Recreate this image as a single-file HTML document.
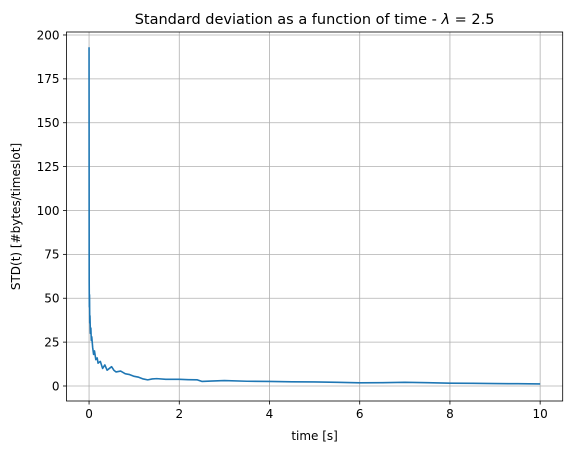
<!DOCTYPE html>
<html><head><meta charset="utf-8"><style>
body{margin:0;background:#fff}
svg text{font-family:"DejaVu Sans","Liberation Sans",sans-serif;fill:#000}
</style></head><body>
<svg id="chart" width="571" height="454" xmlns="http://www.w3.org/2000/svg">
<g id="grid"></g>
<g id="xticks"></g>
<g id="yticks"></g>
<path id="line" fill="none" stroke="#1f77b4" stroke-width="1.6" stroke-linejoin="round"></path>
<rect x="66.5" y="32" width="496.2" height="369" fill="none" stroke="#000" stroke-width="0.8"></rect>
<text x="314.6" y="24" font-size="14.5" text-anchor="middle">Standard deviation as a function of time - <tspan font-style="italic">λ</tspan> = 2.5</text>
<text x="314.6" y="440" font-size="12" text-anchor="middle">time [s]</text>
<text transform="translate(20,216.5) rotate(-90)" font-size="12" text-anchor="middle">STD(t) [#bytes/timeslot]</text>
</svg>
<script>
const xTickVals=[0,2,4,6,8,10];
const yTickVals=[0,25,50,75,100,125,150,175,200];
const times=[0,0.003,0.006,0.01,0.015,0.02,0.03,0.04,0.05,0.06,0.08,0.1,0.12,0.15,0.18,0.2,0.25,0.3,0.35,0.4,0.45,0.5,0.55,0.6,0.7,0.8,0.9,1.0,1.1,1.2,1.3,1.4,1.5,1.7,2.0,2.2,2.4,2.5,2.7,3.0,3.5,4.0,4.5,5.0,5.5,6.0,6.5,7.0,7.5,8.0,8.5,9.0,9.5,10.0];
const stdVals=[193,60,45,52,36,40,30,33,26,28,22,18,20,15,16,13,14,10,12,9,10,11,9,8,8.5,7,6.5,5.5,5,4,3.5,4,4.2,3.8,3.8,3.6,3.5,2.6,2.8,3.1,2.7,2.6,2.4,2.3,2.1,1.8,1.9,2.1,1.9,1.6,1.5,1.4,1.3,1.2];
const X0=66.5,X1=562.7,Y0=401,Y1=32,xmin=-0.5,xmax=10.5,ymin=-8.55,yTop=201.7;
function sx(v){return X0+(v-xmin)/(xmax-xmin)*(X1-X0);}
function sy(v){return Y0-(v-ymin)/(yTop-ymin)*(Y0-Y1);}
const NS="http://www.w3.org/2000/svg";
const grid=document.getElementById('grid'),xt=document.getElementById('xticks'),yt=document.getElementById('yticks');
function mk(tag,attrs,parent){const e=document.createElementNS(NS,tag);for(const k in attrs)e.setAttribute(k,attrs[k]);parent.appendChild(e);return e;}
xTickVals.forEach(v=>{const x=sx(v);
 const g=mk('line',{x1:x,x2:x,y1:Y1,y2:Y0,stroke:'#b0b0b0','stroke-width':0.8},grid);
 
 
 const t=mk('line',{x1:x,x2:x,y1:Y0,y2:Y0+3.5,stroke:'#000','stroke-width':0.8},xt);
 
 
 const l=mk('text',{x:x,y:Y0+17,'font-size':12,'text-anchor':'middle'},xt);l.textContent=v;
 
 
});
yTickVals.forEach(v=>{const y=sy(v);
 const g=mk('line',{x1:X0,x2:X1,y1:y,y2:y,stroke:'#b0b0b0','stroke-width':0.8},grid);
 
 
 const t=mk('line',{x1:X0-3.5,x2:X0,y1:y,y2:y,stroke:'#000','stroke-width':0.8},yt);
 
 
 const l=mk('text',{x:X0-7,y:y+4.3,'font-size':12,'text-anchor':'end'},yt);l.textContent=v;
 
 
});
document.getElementById('line').setAttribute('d',times.map((t,i)=>(i?'L':'M')+sx(t).toFixed(2)+','+sy(stdVals[i]).toFixed(2)).join(''));
</script>
</body></html>
